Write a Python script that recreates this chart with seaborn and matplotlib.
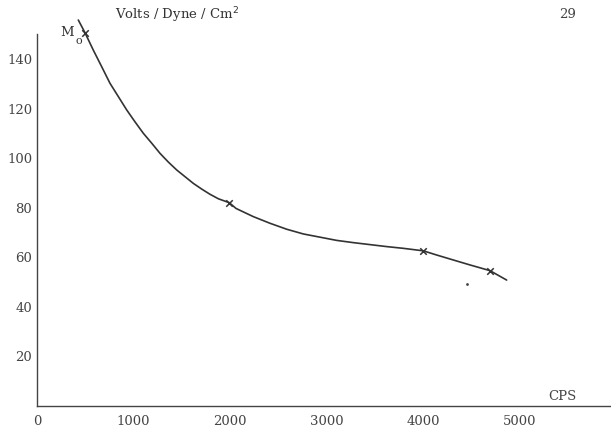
import matplotlib
matplotlib.use("Agg")
import matplotlib.pyplot as plt
import seaborn as sns
import pandas as pd

# Curve (CPS vs Volts/Dyne/Cm^2)
curve_x = [428, 497, 583, 670, 756, 843, 930, 1016, 1102, 1189, 1275, 1361, 1448, 1534,
           1620, 1707, 1793, 1879, 1993, 2062, 2241, 2415, 2588, 2760, 2933, 3106,
           3278, 3451, 3624, 3796, 4003, 4142, 4314, 4487, 4694, 4867]
curve_y = [155.7, 150.6, 143.6, 136.9, 130.2, 124.8, 119.4, 114.6, 110.0, 106.0, 101.9,
           98.4, 95.2, 92.5, 89.8, 87.5, 85.4, 83.6, 82.0, 79.7, 76.4, 73.7, 71.3, 69.4,
           68.1, 66.8, 65.9, 65.1, 64.3, 63.6, 62.6, 60.9, 58.9, 56.9, 54.6, 50.8]

# Measured points (x marks)
meas_x = [497, 1993, 4003, 4694]
meas_y = [150.6, 82.0, 62.6, 54.6]

# Stray dot
dot_x = [4453]
dot_y = [49.1]

x_ticks = [0, 1000, 2000, 3000, 4000, 5000]
y_ticks = [20, 40, 60, 80, 100, 120, 140]

sns.set_theme(style="white")
plt.rcParams["font.family"] = ["DejaVu Serif"]

W, H = 611, 428
fig = plt.figure(figsize=(W / 100, H / 100), dpi=100)
ax_left, ax_bottom = 37, 406
ax = fig.add_axes([ax_left / W, (H - ax_bottom) / H, (W - ax_left) / W, ax_bottom / H])
ax.set_facecolor("white")
fig.patch.set_facecolor("white")

df_curve = pd.DataFrame({"x": curve_x, "y": curve_y})
df_meas = pd.DataFrame({"x": meas_x, "y": meas_y})
sns.lineplot(data=df_curve, x="x", y="y", ax=ax, color="#333333", linewidth=1.2, sort=False)
sns.scatterplot(data=df_meas, x="x", y="y", ax=ax, marker="x", color="#333333", s=22, linewidth=1.1)
sns.scatterplot(x=dot_x, y=dot_y, ax=ax, color="#444444", s=4, linewidth=0)

px_per_x = 96.5 / 1000
px_per_y = 2.479
ax.set_xlim(0, (W - ax_left) / px_per_x)
ax.set_ylim(0, ax_bottom / px_per_y)

for s in ["top", "right"]:
    ax.spines[s].set_visible(False)
for s in ["left", "bottom"]:
    ax.spines[s].set_color("#444444")
    ax.spines[s].set_linewidth(1.0)
ax.spines["left"].set_bounds(0, 150)

ax.set_xticks(x_ticks)
ax.set_xticklabels([str(v) for v in x_ticks])
ax.set_yticks(y_ticks)
ax.set_yticklabels([str(v) for v in y_ticks])
ax.tick_params(axis="both", direction="inout", length=3, width=0.8, color="#666666",
               labelsize=9.5, labelcolor="#444444")
ax.tick_params(axis="x", pad=5)
ax.tick_params(axis="y", pad=2)
ax.set_xlabel("")
ax.set_ylabel("")
ax.grid(False)

# Texts
fig.text(115 / W, 1 - 15 / H, "Volts / Dyne / Cm$^2$", ha="left", va="center", fontsize=9.5, color="#333333")
fig.text(568 / W, 1 - 15 / H, "29", ha="center", va="center", fontsize=9.5, color="#444444")
fig.text(562 / W, 1 - 397 / H, "CPS", ha="center", va="center", fontsize=9.5, color="#444444")
fig.text(67 / W, 1 - 33 / H, "M", ha="center", va="center", fontsize=9.5, color="#333333")
fig.text(79 / W, 1 - 41 / H, "o", ha="center", va="center", fontsize=8, color="#333333")

fig.savefig("out.png", dpi=100, facecolor="white")
